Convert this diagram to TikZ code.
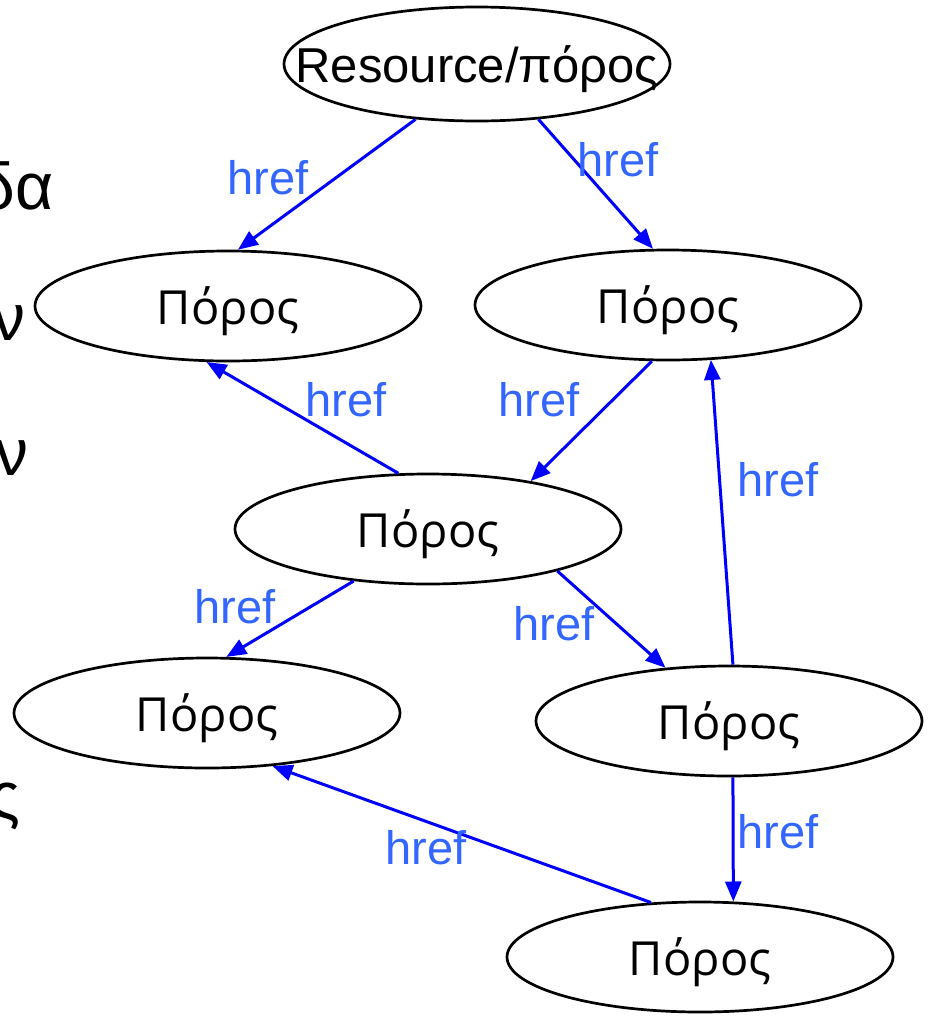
\documentclass[tikz,border=0pt]{standalone}
\usepackage{fontspec}
\setmainfont{Liberation Sans}
\newfontfamily\porosfont{Open Sans}
\usetikzlibrary{shapes.geometric,arrows.meta}

\definecolor{linkblue}{RGB}{0,0,255}
\definecolor{labelblue}{RGB}{51,102,255}

\begin{document}
\begin{tikzpicture}[x=0.5pt,y=-0.5pt,
    poros/.style={ellipse,draw,line width=1.35pt,minimum width=193pt,
      minimum height=55pt,inner sep=0pt,text depth=0pt,
      font=\porosfont\fontsize{23.5}{28}\selectfont},
    link/.style={draw=linkblue,line width=1.5pt,
      -{Triangle[length=10pt,width=8pt]}},
    hreflabel/.style={text=labelblue,inner sep=0pt,
      font=\fontsize{23.5}{28}\selectfont},
    slidetext/.style={inner sep=0pt,anchor=base east,
      font=\fontsize{33}{40}\selectfont}
  ]
  \useasboundingbox (0,0) rectangle (933,1018);

  % text of the slide behind the picture
  \node[slidetext] (s1) at (54,209) {δα};
  \node[slidetext] (s2) at (26,340) {ν};
  \node[slidetext] (s3) at (29,475) {ν};
  \node[slidetext] (s4) at (21,818) {ς};

  % resources
  \node[poros,minimum height=57pt,font=\fontsize{24.5}{29}\selectfont] (res) at (477,64) {\makebox[0pt]{Resource/πόρος}};
  \node[poros] (p1) at (228,306) {Πόρος};
  \node[poros] (p2) at (668,305) {Πόρος};
  \node[poros] (p3) at (428,529) {Πόρος};
  \node[poros] (p4) at (207,713) {Πόρος};
  \node[poros] (p5) at (729,721) {Πόρος};
  \node[poros] (p6) at (700,957) {Πόρος};

  % links
  \draw[link] (res.222) -- (p1.80);
  \draw[link] (res.318) -- (p2.105);
  \draw[link] (p3.118) -- (p1.249);
  \draw[link] (p2.254) -- (p3.25);
  \draw[link] (p5.86) -- (p2.308);
  \draw[link] (p3.215) -- (p4.71);
  \draw[link] (p3.342) -- (p5.140);
  \draw[link] (p5.274) -- (p6.59);
  \draw[link] (p6.132) -- (p4.321);

  \node[hreflabel] (h1) at (268,178) {href};
  \node[hreflabel] (h2) at (618,160) {href};
  \node[hreflabel] (h3) at (346,400) {href};
  \node[hreflabel] (h4) at (539,400) {href};
  \node[hreflabel] (h5) at (778,480) {href};
  \node[hreflabel] (h6) at (235,607) {href};
  \node[hreflabel] (h7) at (554,624) {href};
  \node[hreflabel] (h8) at (778,832) {href};
  \node[hreflabel] (h9) at (426,848) {href};
\end{tikzpicture}
\end{document}
